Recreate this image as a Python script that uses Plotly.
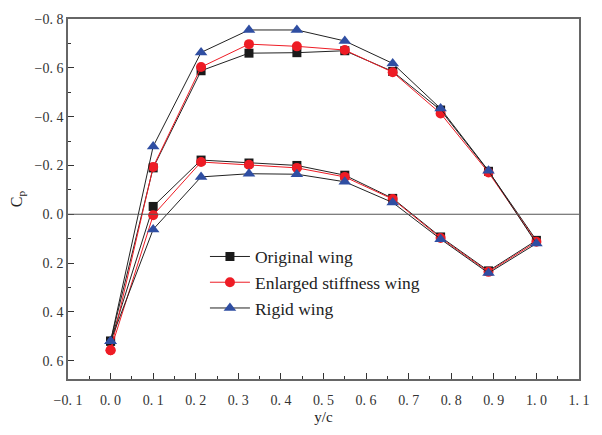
import plotly.graph_objects as go

x_upper = [0.0, 0.1, 0.2125, 0.325, 0.4375, 0.55, 0.6625, 0.775, 0.8875, 1.0]
x_lower = [0.1, 0.2125, 0.325, 0.4375, 0.55, 0.6625, 0.775, 0.8875]

orig_upper = [0.52, -0.19, -0.588, -0.66, -0.662, -0.67, -0.585, -0.427, -0.176, 0.107]
orig_lower = [-0.032, -0.222, -0.21, -0.2, -0.16, -0.065, 0.093, 0.232]

enl_upper = [0.557, -0.194, -0.603, -0.697, -0.688, -0.673, -0.582, -0.413, -0.171, 0.113]
enl_lower = [0.004, -0.214, -0.203, -0.19, -0.153, -0.062, 0.097, 0.236]

rig_upper = [0.52, -0.278, -0.663, -0.755, -0.755, -0.71, -0.618, -0.433, -0.178, 0.12]
rig_lower = [0.062, -0.153, -0.166, -0.164, -0.133, -0.048, 0.102, 0.241]

names = ["Original wing", "Enlarged stiffness wing", "Rigid wing"]
line_colors = ["#222222", "#ee1c25", "#222222"]
marker_colors = ["#1a1a1a", "#ee1c25", "#2f4ea2"]
symbols = ["square", "circle", "triangle-up"]
sizes = [9, 10, 11]

fig = go.Figure()
for name, up, lo, lc, mc, sym, sz in zip(
    names, [orig_upper, enl_upper, rig_upper], [orig_lower, enl_lower, rig_lower],
    line_colors, marker_colors, symbols, sizes):
    xs = x_upper + x_lower[::-1] + [x_upper[0]]
    ys = up + lo[::-1] + [up[0]]
    fig.add_trace(go.Scatter(
        x=xs, y=ys, mode="lines+markers", name=name,
        line=dict(color=lc, width=1),
        marker=dict(symbol=sym, size=sz, color=mc, line=dict(width=0)),
    ))

fig.add_shape(type="line", xref="paper", x0=0, x1=1, yref="y", y0=0, y1=0,
              line=dict(color="#555555", width=1.2))

xt = [round(-0.1 + 0.1 * i, 1) for i in range(13)]
yt = [round(-0.8 + 0.2 * i, 1) for i in range(8)]

def lab(v):
    s = f"{abs(v):.1f}".replace(".", ". ")
    return ("\u2212" + s) if v < 0 else s

tick_font = dict(family="Liberation Serif, DejaVu Serif, serif", size=14, color="#333333")

fig.update_layout(
    width=602, height=435,
    margin=dict(l=68, r=14, t=14, b=53),
    plot_bgcolor="white", paper_bgcolor="white",
    font=dict(family="Liberation Serif, serif", size=16, color="#222222"),
    showlegend=True,
    legend=dict(x=0.268, y=0.39, xanchor="left", yanchor="top",
                bgcolor="rgba(0,0,0,0)", font=dict(size=17.5, family="Liberation Serif, serif", color="#222222"),
                tracegroupgap=0, itemwidth=40),
    xaxis=dict(range=[-0.1, 1.1], tickvals=xt, ticktext=[lab(v) for v in xt],
               showgrid=False, zeroline=False, showline=True, mirror=True,
               linecolor="#666666", linewidth=1.5, ticks="inside", ticklen=6,
               tickcolor="#333333", tickfont=tick_font, ticklabelstandoff=7,
               minor=dict(ticks="inside", ticklen=3, dtick=0.05, tickcolor="#333333", showgrid=False),
               title=dict(text="y/c", font=dict(size=15, family="Liberation Serif, serif"), standoff=5)),
    yaxis=dict(range=[0.675, -0.8], tickvals=yt, ticktext=[lab(v) for v in yt],
               showgrid=False, zeroline=False, showline=True, mirror=True,
               linecolor="#666666", linewidth=1.5, ticks="inside", ticklen=6,
               tickcolor="#333333", tickfont=tick_font,
               minor=dict(ticks="inside", ticklen=3, dtick=0.1, tickcolor="#333333", showgrid=False),
               title=dict(text="C<sub>p</sub>", font=dict(size=16, family="Liberation Serif, serif"), standoff=8)),
)

fig.write_html("out.html")
